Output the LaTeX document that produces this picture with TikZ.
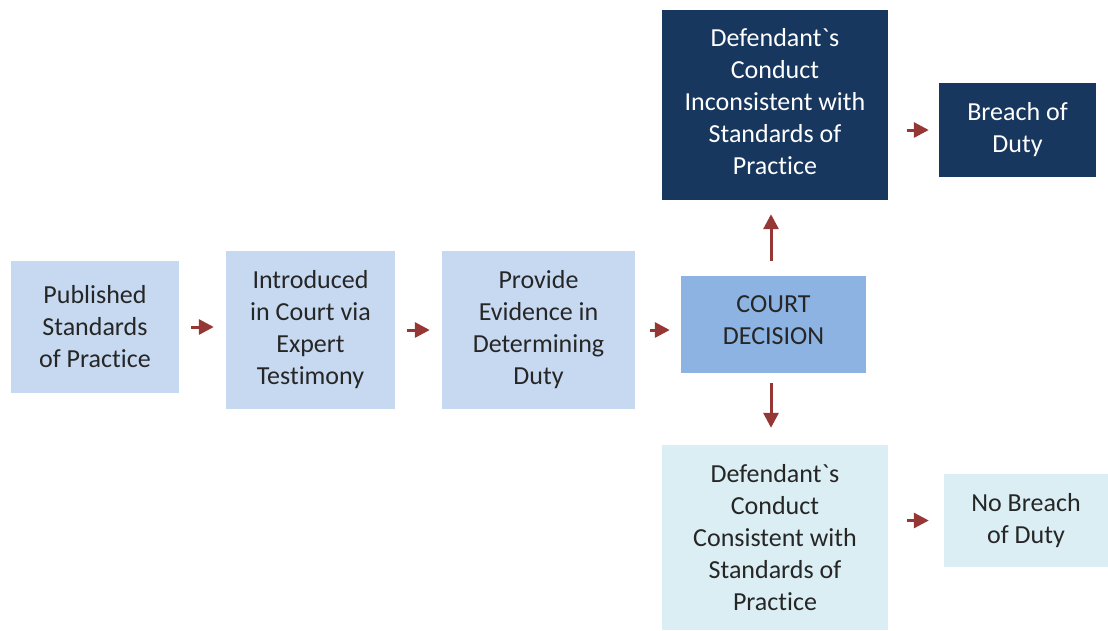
\documentclass[tikz,border=0pt]{standalone}
\usepackage{fontspec}
\setmainfont{Carlito}[Ligatures={NoCommon}]
\usetikzlibrary{%
  arrows.meta,%
  calc,%
  positioning% wg. " of "
}
\definecolor{boxlight}{HTML}{C6D9F1}
\definecolor{boxcourt}{HTML}{8DB3E2}
\definecolor{boxdark}{HTML}{17375E}
\definecolor{boxpale}{HTML}{DBEEF4}
\definecolor{arrowred}{HTML}{953735}

\begin{document}
\begin{tikzpicture}[
  x=1pt,y=-1pt,
  font=\fontsize{26}{32}\selectfont,
  >={Triangle[length=15pt,width=15pt]},
  box/.style={inner sep=0pt,align=center,text=black!85},
  darkbox/.style={box,fill=boxdark,text=white},
  flow/.style={->,draw=arrowred,fill=arrowred,line width=3pt,shorten <=12pt,shorten >=12pt},
]
\useasboundingbox (0,0) rectangle (1108,630);

\node[box,fill=boxlight,minimum width=168pt,minimum height=132pt] (pub) at (95,327)
  {Published\\Standards\\of Practice};
\node[box,fill=boxlight,minimum width=169pt,minimum height=158pt] (intro) at (310.5,330)
  {Introduced\\in Court via\\Expert\\Testimony};
\node[box,fill=boxlight,minimum width=193pt,minimum height=158pt] (evid) at (538.5,330)
  {Provide\\Evidence in\\Determining\\Duty};
\node[box,fill=boxcourt,minimum width=185pt,minimum height=97pt,text depth=8pt] (court) at (773.5,324.5)
  {COURT\\DECISION};
\node[darkbox,minimum width=226pt,minimum height=190pt,text depth=8pt] (incons) at (775,105)
  {Defendant\textasciigrave s\\Conduct\\Inconsistent with\\Standards of\\Practice};
\node[darkbox,minimum width=157pt,minimum height=94pt] (breach) at (1017.5,130)
  {Breach of\\Duty};
\node[box,fill=boxpale,minimum width=226pt,minimum height=185pt] (cons) at (775,537.5)
  {Defendant\textasciigrave s\\Conduct\\Consistent with\\Standards of\\Practice};
\node[box,fill=boxpale,minimum width=164pt,minimum height=93pt] (nobreach) at (1026,520.5)
  {No Breach\\of Duty};

% main line
\draw[flow] (pub.east) -- (pub.east -| intro.west);
\draw[flow] (intro.east) -- (intro.east -| evid.west);
\draw[flow,shorten <=15pt,shorten >=11pt] (evid.east) -- (evid.east -| court.west);
% decision
\draw[flow,shorten <=15pt,shorten >=14pt] ([xshift=-2.5pt]court.north) -- ([xshift=-2.5pt]court.north |- incons.south);
\draw[flow,shorten <=10pt,shorten >=17pt] ([xshift=-2.5pt]court.south) -- ([xshift=-2.5pt]court.south |- cons.north);
\draw[flow,shorten <=19pt,shorten >=10pt] (breach.west -| incons.east) -- (breach.west);
\draw[flow,shorten <=19pt,shorten >=15pt] (nobreach.west -| cons.east) -- (nobreach.west);
\end{tikzpicture}
\end{document}
